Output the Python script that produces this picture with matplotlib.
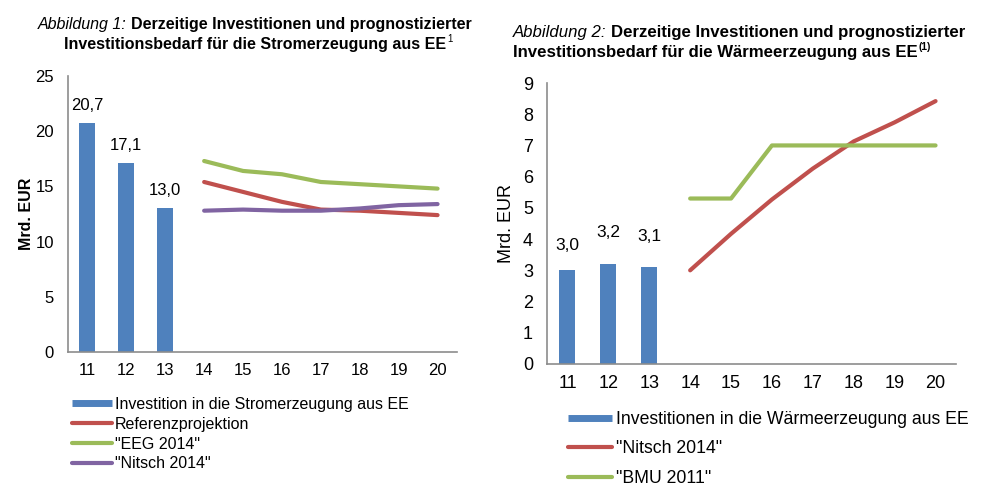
import matplotlib

matplotlib.use("Agg")
import matplotlib.pyplot as plt
from matplotlib.lines import Line2D

plt.rcParams["font.family"] = ["Liberation Sans", "DejaVu Sans"]

years = ["11", "12", "13", "14", "15", "16", "17", "18", "19", "20"]

# Stromerzeugung
strom_bars = [20.7, 17.1, 13.0]
strom_labels = ["20,7", "17,1", "13,0"]
strom_ref = [15.4, 14.5, 13.6, 12.9, 12.8, 12.6, 12.4]
strom_eeg = [17.3, 16.4, 16.1, 15.4, 15.2, 15.0, 14.8]
strom_nitsch = [12.8, 12.9, 12.8, 12.8, 13.0, 13.3, 13.4]

# Waermeerzeugung
waerme_bars = [3.0, 3.2, 3.1]
waerme_labels = ["3,0", "3,2", "3,1"]
waerme_nitsch = [3.0, 4.17, 5.27, 6.26, 7.13, 7.74, 8.42]
waerme_bmu = [5.3, 5.3, 7.0, 7.0, 7.0, 7.0, 7.0]

BLUE = "#4F81BD"
RED = "#C0504D"
GREEN = "#9BBB59"
PURPLE = "#8064A2"
SPINE = "#8C8C8C"

W, H = 1006, 495
fig = plt.figure(figsize=(W / 100, H / 100), dpi=100)
fig.canvas.draw()
renderer = fig.canvas.get_renderer()


def px_axes(x0, y0, x1, y1):
    return fig.add_axes([x0 / W, 1 - y1 / H, (x1 - x0) / W, (y1 - y0) / H])


def style_axes(ax, ymax, step, size):
    for s in ["top", "right"]:
        ax.spines[s].set_visible(False)
    for s in ["left", "bottom"]:
        ax.spines[s].set_color(SPINE)
        ax.spines[s].set_linewidth(1.2)
    ax.set_xlim(-0.5, len(years) - 0.5)
    ax.set_ylim(0, ymax)
    ax.set_yticks(range(0, ymax + 1, step))
    ax.set_xticks(range(len(years)))
    ax.set_xticklabels(years)
    ax.tick_params(length=0, labelsize=size, colors="black", pad=8)
    ax.tick_params(axis="y", pad=10)


def title(x, y, gap, prefix, line1, line2, sup, sup_bold, size, centered):
    # two-line heading: italic prefix, bold text, small superscript
    y1 = 1 - y / H
    y2 = 1 - (y + gap) / H
    pre = fig.text(0, y1, prefix, va="center", fontsize=size, style="italic")
    main = fig.text(0, y1, line1, va="center", fontsize=size, fontweight="bold")
    sub = fig.text(0, y2, line2, va="center", fontsize=size, fontweight="bold")
    w_pre = pre.get_window_extent(renderer).width
    w_main = main.get_window_extent(renderer).width
    w_sub = sub.get_window_extent(renderer).width
    if centered:
        x1 = x - (w_pre + w_main) / 2
        x2 = x - w_sub / 2
    else:
        x1 = x2 = x
    pre.set_x(x1 / W)
    main.set_x((x1 + w_pre) / W)
    sub.set_x(x2 / W)
    fig.text((x2 + w_sub + 1) / W, y2 + 5 / H, sup, va="center",
             fontsize=size * 0.6, fontweight="bold" if sup_bold else "normal")


# --- left chart ---
ax1 = px_axes(68, 76, 457, 352)
xb = range(len(strom_bars))
ax1.bar(xb, strom_bars, width=0.41, color=BLUE, zorder=2)
for x, v, t in zip(xb, strom_bars, strom_labels):
    ax1.annotate(t, (x, v), xytext=(0, 10), textcoords="offset pixels",
                 ha="center", va="bottom", fontsize=12)
xl = range(3, len(years))
ax1.plot(xl, strom_ref, color=RED, lw=3, solid_capstyle="round", zorder=3)
ax1.plot(xl, strom_eeg, color=GREEN, lw=3, solid_capstyle="round", zorder=3)
ax1.plot(xl, strom_nitsch, color=PURPLE, lw=3, solid_capstyle="round", zorder=4)
style_axes(ax1, 25, 5, 12)
ax1.set_ylabel("Mrd. EUR", fontsize=11.5, fontweight="bold", labelpad=1)

title(255, 25, 19, "Abbildung 1: ", "Derzeitige Investitionen und prognostizierter",
      "Investitionsbedarf für die Stromerzeugung aus EE", "1", False, 11.5, True)

handles1 = [
    Line2D([], [], color=BLUE, lw=5, solid_capstyle="butt"),
    Line2D([], [], color=RED, lw=3, solid_capstyle="round"),
    Line2D([], [], color=GREEN, lw=3, solid_capstyle="round"),
    Line2D([], [], color=PURPLE, lw=3, solid_capstyle="round"),
]
labels1 = ["Investition in die Stromerzeugung aus EE", "Referenzprojektion",
           '"EEG 2014"', '"Nitsch 2014"']
fig.legend(handles1, labels1, loc="upper left", bbox_to_anchor=(72 / W, 1 - 397 / H),
           frameon=False, fontsize=11.5, handlelength=2.5, handletextpad=0.2,
           labelspacing=0.3, borderpad=0, borderaxespad=0)

# --- right chart ---
ax2 = px_axes(547, 83, 956, 364)
xb = range(len(waerme_bars))
ax2.bar(xb, waerme_bars, width=0.39, color=BLUE, zorder=2)
label_off = [17, 24, 23]
for x, v, t, o in zip(xb, waerme_bars, waerme_labels, label_off):
    ax2.annotate(t, (x, v), xytext=(0, o), textcoords="offset pixels",
                 ha="center", va="bottom", fontsize=12.5)
ax2.plot(xl, waerme_nitsch, color=RED, lw=3, solid_capstyle="round", zorder=3)
ax2.plot(xl, waerme_bmu, color=GREEN, lw=3, solid_capstyle="round", zorder=3)
style_axes(ax2, 9, 1, 13)
ax2.set_ylabel("Mrd. EUR", fontsize=13, labelpad=6)

title(513, 32, 20, "Abbildung 2: ", "Derzeitige Investitionen und prognostizierter",
      "Investitionsbedarf für die Wärmeerzeugung aus EE", "(1)", True, 12.1, False)

handles2 = [
    Line2D([], [], color=BLUE, lw=5, solid_capstyle="butt"),
    Line2D([], [], color=RED, lw=3, solid_capstyle="round"),
    Line2D([], [], color=GREEN, lw=3, solid_capstyle="round"),
]
labels2 = ["Investitionen in die Wärmeerzeugung aus EE", '"Nitsch 2014"', '"BMU 2011"']
fig.legend(handles2, labels2, loc="upper left", bbox_to_anchor=(568 / W, 1 - 411 / H),
           frameon=False, fontsize=12.7, handlelength=2.5, handletextpad=0.2,
           labelspacing=0.7, borderpad=0, borderaxespad=0)

fig.savefig("out.png", dpi=100, facecolor="white")
